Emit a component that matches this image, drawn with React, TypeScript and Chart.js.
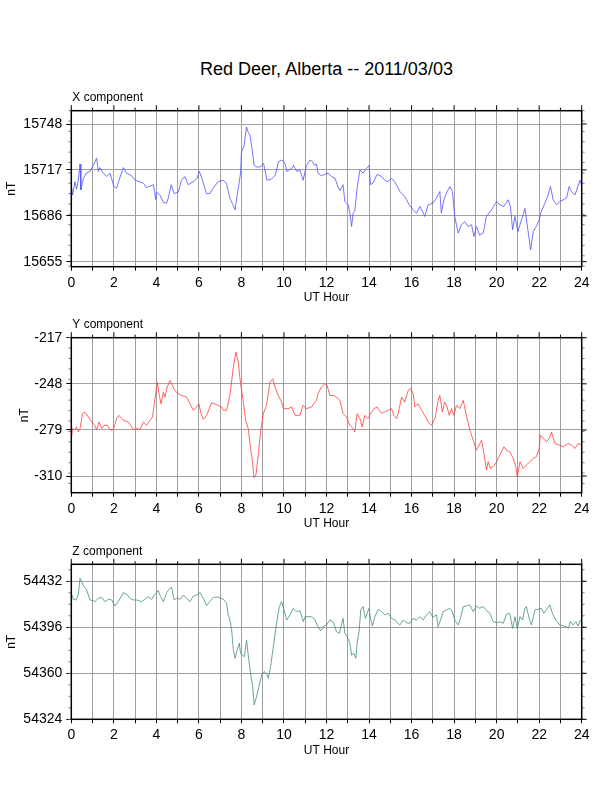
import { useEffect, useRef } from 'react';
import { Chart, registerables } from 'chart.js';

Chart.register(...registerables);

const FONT = '"Liberation Sans", Arial, Helvetica, sans-serif';

const hourTicks = [0, 1, 2, 3, 4, 5, 6, 7, 8, 9, 10, 11, 12, 13, 14, 15, 16, 17, 18, 19, 20, 21, 22, 23, 24];

// X component
const xHours = [
  0.0, 0.06, 0.17, 0.25, 0.33, 0.41, 0.45, 0.56, 0.72, 0.88, 1.03, 1.19, 1.27, 1.34, 1.5, 1.66, 1.82, 2.0, 2.13, 2.29,
  2.45, 2.6, 2.84, 3.0, 3.23, 3.39, 3.54, 3.86, 3.97, 4.0, 4.17, 4.33, 4.48, 4.56, 4.7, 4.83, 5.03, 5.18, 5.34, 5.5,
  5.73, 5.9, 6.02, 6.17, 6.36, 6.52, 6.67, 6.9, 7.14, 7.3, 7.45, 7.6, 7.7, 7.8, 7.9, 7.96, 8.0, 8.12, 8.24, 8.3,
  8.4, 8.48, 8.6, 8.7, 8.88, 9.04, 9.2, 9.4, 9.6, 9.74, 9.9, 10.05, 10.13, 10.36, 10.45, 10.6, 10.75, 10.9, 11.06, 11.22,
  11.34, 11.45, 11.53, 11.6, 11.76, 11.92, 12.08, 12.24, 12.4, 12.5, 12.63, 12.78, 12.86, 13.02, 13.1, 13.18, 13.25, 13.33, 13.44, 13.57,
  13.72, 13.88, 14.0, 14.07, 14.19, 14.38, 14.59, 14.74, 14.9, 15.06, 15.21, 15.45, 15.68, 15.89, 16.08, 16.23, 16.39, 16.55, 16.62, 16.78,
  17.0, 17.17, 17.33, 17.4, 17.52, 17.64, 17.8, 17.92, 18.03, 18.19, 18.35, 18.5, 18.66, 18.82, 18.93, 19.05, 19.2, 19.37, 19.52, 19.76,
  20.0, 20.15, 20.34, 20.54, 20.65, 20.75, 20.86, 21.0, 21.17, 21.33, 21.48, 21.6, 21.72, 21.87, 22.0, 22.1, 22.27, 22.42, 22.53, 22.66,
  22.82, 22.97, 23.13, 23.29, 23.41, 23.52, 23.68, 23.79, 23.92, 24.0,
];
const xValues = [
  15707, 15700, 15709, 15704, 15710, 15721, 15703.5, 15711, 15715, 15716, 15720, 15725, 15716, 15718.6, 15715, 15712.5, 15714.8, 15706, 15704.6, 15712,
  15718.6, 15714.8, 15713, 15710, 15709, 15708, 15705, 15707, 15697, 15702, 15700, 15695, 15694.5, 15698, 15707, 15701, 15702, 15710, 15712.5, 15707,
  15709, 15711, 15716, 15710, 15701, 15701, 15704.6, 15709, 15710, 15708, 15698, 15693.4, 15690, 15700, 15709, 15715, 15729, 15733, 15746, 15743,
  15740.6, 15733, 15720, 15719, 15719, 15721.5, 15710, 15710.7, 15713.6, 15722.6, 15723.7, 15721.5, 15716, 15718, 15720, 15716, 15717, 15710, 15720, 15723.7,
  15722.6, 15720, 15721, 15714.8, 15713, 15714, 15714.8, 15712.5, 15711.4, 15707, 15703, 15707, 15695.7, 15693.4, 15687.8, 15678.8, 15687.8, 15689, 15704.6, 15717,
  15714.8, 15718, 15720, 15707, 15708.2, 15714, 15712.5, 15710, 15709, 15711.4, 15709, 15702.4, 15699, 15693.4, 15690, 15687.8, 15692.3, 15687.8, 15685.5, 15693.4,
  15694.5, 15698, 15702.4, 15687.8, 15696.8, 15701.3, 15705.8, 15702.4, 15685.5, 15674.3, 15680, 15682, 15678.8, 15680, 15672, 15678.8, 15673, 15674.3, 15685.5, 15690,
  15695.7, 15693.4, 15692.3, 15696.8, 15692.3, 15676.6, 15685.5, 15675.4, 15683.3, 15691, 15675.4, 15663, 15675.4, 15678.8, 15683.3, 15689, 15694.5, 15700, 15705.8, 15696.8,
  15693.4, 15695.7, 15696.8, 15698, 15705.8, 15702.4, 15700, 15704.6, 15710, 15706.6,
];
const xTicks = [15655, 15686, 15717, 15748];

// Y component
const yHours = [
  0.0, 0.06, 0.17, 0.25, 0.33, 0.41, 0.53, 0.64, 0.8, 0.96, 1.11, 1.19, 1.3, 1.43, 1.54, 1.69, 1.82, 1.97, 2.13, 2.24,
  2.45, 2.68, 2.79, 2.92, 3.07, 3.23, 3.39, 3.54, 3.7, 3.82, 3.89, 3.98, 4.04, 4.14, 4.22, 4.33, 4.4, 4.51, 4.64, 4.72,
  4.87, 5.03, 5.19, 5.42, 5.58, 5.74, 5.89, 6.0, 6.08, 6.21, 6.36, 6.6, 6.83, 7.07, 7.15, 7.3, 7.46, 7.62, 7.74, 7.85,
  7.96, 8.09, 8.2, 8.32, 8.43, 8.53, 8.59, 8.68, 8.79, 8.9, 9.03, 9.18, 9.34, 9.47, 9.58, 9.73, 9.89, 9.97, 10.2, 10.36,
  10.52, 10.75, 10.9, 11.06, 11.3, 11.45, 11.53, 11.6, 11.76, 11.92, 12.03, 12.16, 12.31, 12.47, 12.63, 12.78, 12.94, 13.1, 13.25, 13.33,
  13.44, 13.57, 13.68, 13.8, 13.96, 14.07, 14.23, 14.38, 14.59, 14.74, 14.9, 15.06, 15.17, 15.3, 15.42, 15.53, 15.68, 15.84, 15.95, 16.08,
  16.15, 16.31, 16.47, 16.62, 16.78, 16.94, 17.1, 17.25, 17.33, 17.45, 17.56, 17.67, 17.77, 17.88, 17.99, 18.11, 18.27, 18.43, 18.58, 18.74,
  18.9, 19.05, 19.29, 19.4, 19.52, 19.6, 19.71, 19.84, 20.0, 20.15, 20.34, 20.47, 20.62, 20.78, 20.9, 20.97, 21.1, 21.25, 21.4, 21.56,
  21.72, 21.87, 22.0, 22.06, 22.19, 22.35, 22.51, 22.58, 22.74, 22.97, 23.13, 23.36, 23.52, 23.68, 23.83, 24.0,
];
const yValues = [
  -284.8, -278, -279, -277, -280.3, -278, -268, -267, -270.3, -273.6, -275.9, -279, -273.6, -278, -275.9, -275.9, -279, -279, -271.4, -269.2,
  -272.5, -273.6, -275.9, -278.8, -278, -278.8, -273.6, -275.9, -272.5, -270.3, -262.5, -253.6, -246.9, -255.8, -261.4, -253.6, -256.9, -250.2, -245.8, -248,
  -252.5, -254.7, -255.8, -256.9, -261.4, -265.8, -263.6, -261.4, -267, -271.9, -269.2, -260.7, -262, -263.6, -265.8, -265.8, -255.8, -236.8, -226.8, -233.5,
  -248, -260.3, -272.5, -278.1, -291.5, -301.5, -311.1, -309.3, -296, -280.3, -268, -262.5, -246.9, -244.7, -250.2, -255.8, -260.3, -264.7, -264.7, -263.6,
  -269.2, -269.2, -262.5, -264.7, -263.6, -260.3, -259.2, -254.7, -250.2, -248, -249.2, -255.8, -255.8, -256.9, -259.2, -268, -270.3, -275.9, -278.1, -280.3,
  -268, -271.4, -277, -269.2, -271.4, -268, -264.7, -263.6, -268, -266.9, -265.8, -264.7, -269.2, -271.4, -264.7, -256.9, -260.3, -252.5, -251.3, -254.7,
  -263.6, -261.4, -265.8, -269.2, -273.6, -275.9, -271.4, -259.2, -255.8, -266.9, -260.3, -263.6, -269.2, -264.7, -269.2, -262.5, -264.7, -259.2, -269.2, -279.2,
  -285.9, -292.6, -285.9, -294.8, -306, -300.4, -304.9, -303.7, -300.4, -295.9, -290.4, -292.6, -293.7, -298.2, -303.7, -310.4, -300.4, -304.9, -302.6, -300.4,
  -298.2, -297, -291.5, -282.6, -284.8, -287, -283.7, -280.3, -288.1, -289.3, -290.4, -288.1, -289.3, -291.5, -288.1, -289.3,
];
const yTicks = [-310, -279, -248, -217];

// Z component
const zHours = [
  0.0, 0.09, 0.22, 0.33, 0.41, 0.49, 0.56, 0.72, 0.88, 1.03, 1.11, 1.27, 1.43, 1.58, 1.74, 1.9, 2.05, 2.21, 2.45, 2.6,
  2.76, 2.92, 3.07, 3.31, 3.46, 3.62, 3.78, 3.89, 3.98, 4.09, 4.2, 4.33, 4.48, 4.64, 4.72, 4.83, 4.95, 5.11, 5.27, 5.42,
  5.58, 5.74, 5.89, 6.05, 6.21, 6.36, 6.52, 6.68, 6.91, 7.15, 7.3, 7.38, 7.46, 7.54, 7.62, 7.7, 7.8, 7.9, 7.96, 8.05,
  8.14, 8.24, 8.32, 8.43, 8.53, 8.6, 8.71, 8.84, 8.95, 9.06, 9.18, 9.26, 9.37, 9.5, 9.65, 9.78, 9.89, 10.0, 10.13, 10.28,
  10.44, 10.6, 10.75, 10.91, 10.99, 11.14, 11.3, 11.46, 11.6, 11.72, 11.87, 12.0, 12.16, 12.31, 12.47, 12.6, 12.7, 12.78, 12.86, 12.97,
  13.1, 13.18, 13.29, 13.38, 13.44, 13.54, 13.61, 13.72, 13.83, 14.0, 14.07, 14.16, 14.27, 14.43, 14.59, 14.74, 14.9, 15.06, 15.21, 15.45,
  15.6, 15.76, 15.92, 16.08, 16.23, 16.39, 16.55, 16.7, 16.86, 17.0, 17.17, 17.25, 17.36, 17.49, 17.64, 17.8, 17.92, 18.03, 18.19, 18.3,
  18.43, 18.58, 18.74, 18.9, 19.05, 19.2, 19.37, 19.52, 19.68, 19.84, 20.0, 20.15, 20.31, 20.47, 20.62, 20.75, 20.86, 20.97, 21.1, 21.22,
  21.33, 21.4, 21.53, 21.64, 21.8, 21.95, 22.1, 22.22, 22.34, 22.5, 22.62, 22.78, 22.97, 23.13, 23.29, 23.37, 23.47, 23.6, 23.73, 23.83,
  23.94, 24.0,
];
const zValues = [
  54422.6, 54417.9, 54417.4, 54421.3, 54434.4, 54431.8, 54429, 54425.2, 54417.4, 54416.9, 54416.1, 54418.7, 54419.5, 54416.1, 54417.9, 54417.4, 54412.7, 54416.1, 54423.1, 54422,
  54418.7, 54417.4, 54417.4, 54416.1, 54417.9, 54420, 54417.9, 54421.3, 54422.6, 54424.7, 54420, 54416.1, 54423.1, 54426.5, 54427.3, 54417.4, 54418.7, 54417.9, 54421.3, 54418.7,
  54416.1, 54420.5, 54421.3, 54423.1, 54418.7, 54413, 54416.1, 54419.5, 54419.5, 54417.9, 54414.8, 54405.7, 54401.7, 54394, 54378.3, 54371.7, 54378.3, 54383.5, 54375.6, 54374.3,
  54373, 54386, 54374.3, 54360, 54349.6, 54335.2, 54341.7, 54350.9, 54358.7, 54361.3, 54360, 54356, 54365.2, 54380.9, 54399, 54412.2, 54416.1, 54409.6, 54401.7, 54405.7,
  54410.9, 54408.3, 54409, 54400.4, 54404.3, 54404.3, 54404.3, 54401.7, 54396.5, 54393.4, 54397, 54397.8, 54401.7, 54400.4, 54392.6, 54391.3, 54397.8, 54403, 54391.3, 54388.7,
  54383.5, 54374.3, 54375.6, 54371.7, 54383.5, 54393.9, 54409.6, 54412.2, 54403, 54410.9, 54403, 54397, 54404.3, 54410, 54408.3, 54405.7, 54407, 54403, 54401.7, 54397.8,
  54401.7, 54399.6, 54399.1, 54403, 54401.7, 54404.3, 54401.7, 54405.7, 54408.3, 54403.8, 54405.7, 54396.5, 54401.7, 54408.3, 54409.6, 54410.9, 54408.3, 54401.7, 54397.8, 54403,
  54412.2, 54412.7, 54413.5, 54408.3, 54412.7, 54410.9, 54412.2, 54409.1, 54407, 54400.4, 54399.6, 54400.4, 54399.1, 54406.4, 54407, 54395.2, 54404.3, 54395.2, 54404.3, 54401.7,
  54410.9, 54412.2, 54403, 54397.8, 54409.6, 54410.1, 54410.9, 54407, 54409.6, 54413.5, 54407, 54401.7, 54397.8, 54397, 54396.5, 54395.2, 54400.4, 54397.8, 54400.4, 54397,
  54401.7, 54400.4,
];
const zTicks = [54324, 54360, 54396, 54432];

const PLOT_LEFT = 71.3;
const PLOT_RIGHT = 581.7;
const PAGE_W = 612;
const GRID = '#a0a0a0';

const panels = [
  { label: 'X component', hours: xHours, values: xValues, ticks: xTicks, minor: 7, min: 15651.6, max: 15757, color: 'rgb(80,80,255)', top: 110.7, bottom: 266.7, ntPad: 4.8 },
  { label: 'Y component', hours: yHours, values: yValues, ticks: yTicks, minor: 7, min: -321.2, max: -217, color: 'rgb(255,60,60)', top: 337.7, bottom: 492.7, ntPad: 17.8 },
  { label: 'Z component', hours: zHours, values: zValues, ticks: zTicks, minor: 9, min: 54324, max: 54445.3, color: 'rgb(70,145,105)', top: 564.3, bottom: 719.3, ntPad: 4.8 },
];

const framePlugin = {
  id: 'frame',
  afterDraw(chart: any, _args: any, opts: any) {
    const { ctx, chartArea: a, scales } = chart;
    const ys = scales.y;
    const xs = scales.x;
    const seg = (x1: number, y1: number, x2: number, y2: number) => {
      ctx.beginPath();
      ctx.moveTo(x1, y1);
      ctx.lineTo(x2, y2);
      ctx.stroke();
    };
    ctx.save();
    // minor ticks on both sides
    ctx.strokeStyle = '#888';
    ctx.lineWidth = 1;
    const step = opts.minor;
    for (let v = Math.ceil(ys.min / step) * step; v <= ys.max; v += step) {
      const py = ys.getPixelForValue(v);
      seg(a.left - 3, py, a.left, py);
      seg(a.right, py, a.right + 3, py);
    }
    // major ticks on right
    ctx.strokeStyle = '#000';
    for (const v of opts.ticks) {
      const py = ys.getPixelForValue(v);
      seg(a.right, py, a.right + 5, py);
    }
    // hour ticks on top
    for (const h of hourTicks) {
      const px = xs.getPixelForValue(h);
      seg(px, a.top - (h % 2 === 0 ? 5.5 : 3), px, a.top);
    }
    // frame
    ctx.lineWidth = 1.5;
    ctx.strokeRect(a.left, a.top, a.right - a.left, a.bottom - a.top);
    // panel label
    ctx.fillStyle = '#000';
    ctx.font = `12px ${FONT}`;
    ctx.textBaseline = 'middle';
    ctx.textAlign = 'left';
    ctx.fillText(opts.label, a.left + 1, a.top - 12.7);
    ctx.restore();
  },
};

function Panel({ p }: { p: (typeof panels)[number] }) {
  const canvasRef = useRef<HTMLCanvasElement>(null);
  const chartRef = useRef<Chart | null>(null);

  const canvasTop = Math.floor(p.top) - 30;
  const padTop = p.top - canvasTop;
  const canvasH = Math.ceil(p.bottom) + 45 - canvasTop;
  const xScaleH = canvasH - (p.bottom - canvasTop);

  useEffect(() => {
    if (!canvasRef.current) return;
    const ctx = canvasRef.current.getContext('2d');
    if (!ctx) return;
    if (chartRef.current) chartRef.current.destroy();

    chartRef.current = new Chart(ctx, {
      type: 'line',
      data: {
        datasets: [
          {
            data: p.hours.map((h, i) => ({ x: h, y: p.values[i] })),
            borderColor: p.color,
            borderWidth: 0.8,
            pointRadius: 0,
            tension: 0,
            fill: false,
          },
        ],
      },
      plugins: [framePlugin],
      options: {
        responsive: false,
        animation: false,
        events: [],
        layout: { padding: { left: 0, right: PAGE_W - PLOT_RIGHT, top: padTop, bottom: 0 } },
        plugins: {
          legend: { display: false },
          tooltip: { enabled: false },
          frame: { label: p.label, ticks: p.ticks, minor: p.minor },
        } as any,
        scales: {
          x: {
            type: 'linear',
            min: 0,
            max: 24,
            afterFit: (s: any) => {
              s.height = xScaleH;
            },
            afterBuildTicks: (s: any) => {
              s.ticks = hourTicks.map((v) => ({ value: v }));
            },
            ticks: {
              autoSkip: false,
              maxRotation: 0,
              padding: 3.6,
              color: '#000',
              font: { size: 14, family: FONT },
              callback: (v: any) => (Number(v) % 2 === 0 ? String(v) : ''),
            },
            grid: { color: GRID, lineWidth: 1, tickLength: 4, tickColor: '#000' },
            border: { display: false },
            title: {
              display: true,
              text: 'UT Hour',
              color: '#000',
              font: { size: 12, family: FONT },
              padding: { top: 0, bottom: xScaleH - 38.5 },
            },
          },
          y: {
            type: 'linear',
            min: p.min,
            max: p.max,
            afterFit: (s: any) => {
              s.width = PLOT_LEFT;
            },
            afterBuildTicks: (s: any) => {
              s.ticks = p.ticks.map((v) => ({ value: v }));
            },
            ticks: {
              padding: 4,
              color: '#000',
              font: { size: 14, family: FONT },
              callback: (v: any) => String(v),
            },
            grid: { color: GRID, lineWidth: 1, tickLength: 5, tickColor: '#000' },
            border: { display: false },
            title: {
              display: true,
              text: 'nT',
              color: '#000',
              font: { size: 12, family: FONT },
              padding: { top: p.ntPad, bottom: 0 },
            },
          },
        },
      },
    });

    return () => {
      if (chartRef.current) {
        chartRef.current.destroy();
        chartRef.current = null;
      }
    };
  }, []);

  return (
    <canvas
      ref={canvasRef}
      width={PAGE_W}
      height={canvasH}
      style={{ position: 'absolute', left: 0, top: canvasTop, width: PAGE_W, height: canvasH, display: 'block' }}
    />
  );
}

export default function App() {
  return (
    <div style={{ position: 'absolute', left: 0, top: 0, width: PAGE_W, height: 792, background: '#fff', overflow: 'hidden' }}>
      <div
        style={{
          position: 'absolute',
          left: (PLOT_LEFT + PLOT_RIGHT) / 2 - 300,
          top: 58,
          width: 600,
          textAlign: 'center',
          fontFamily: FONT,
          fontSize: 18,
          lineHeight: '22px',
          color: '#000',
        }}
      >
        Red Deer, Alberta -- 2011/03/03
      </div>
      {panels.map((p) => (
        <Panel key={p.label} p={p} />
      ))}
    </div>
  );
}
